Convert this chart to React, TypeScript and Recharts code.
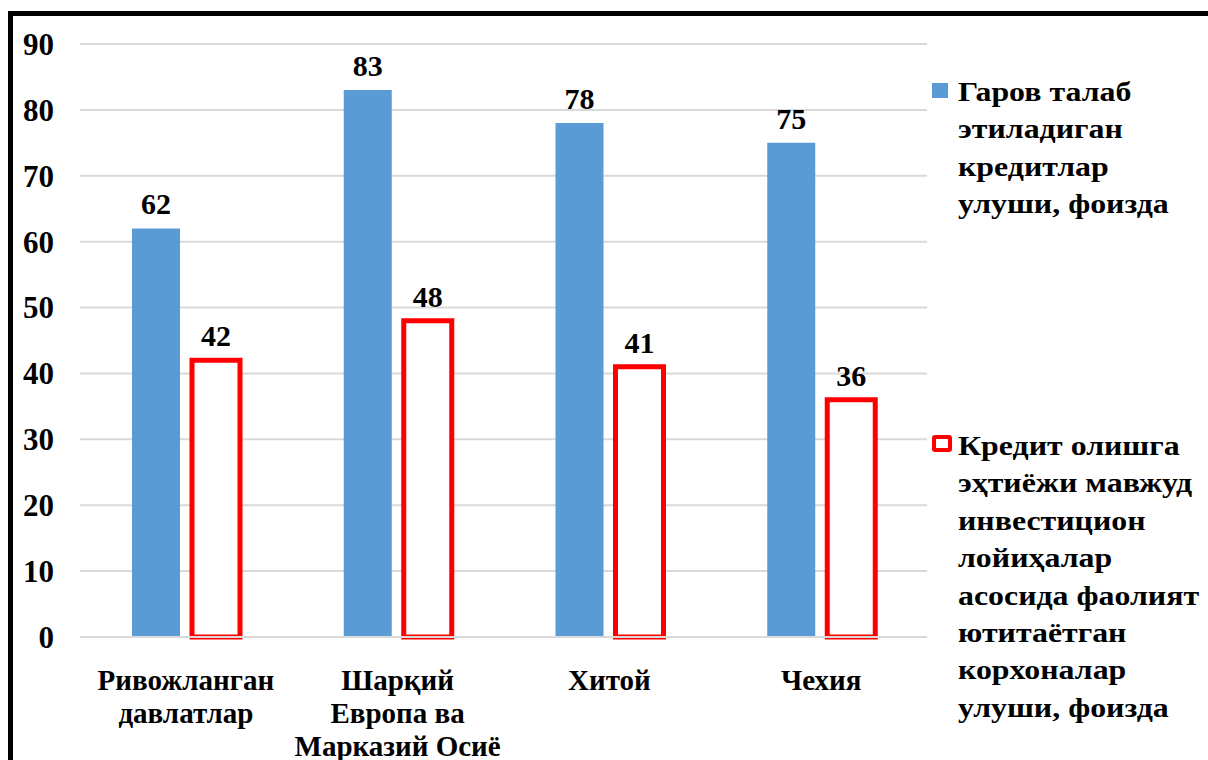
import { BarChart, Bar, XAxis, YAxis, CartesianGrid, Legend, LabelList } from 'recharts';

const categories = ['Ривожланган\nдавлатлар', 'Шарқий\nЕвропа ва\nМарказий Осиё', 'Хитой', 'Чехия'];
const collateralShare = [62, 83, 78, 75];
const projectShare = [42, 48, 41, 36];
const yTicks = [0, 10, 20, 30, 40, 50, 60, 70, 80, 90];

const seriesNames = {
  collateral: 'Гаров талаб\nэтиладиган\nкредитлар\nулуши, фоизда',
  project:
    'Кредит олишга\nэҳтиёжи мавжуд\nинвестицион\nлойиҳалар\nасосида фаолият\nютитаётган\nкорхоналар\nулуши, фоизда',
};

const data = categories.map((name, i) => ({
  name,
  collateral: collateralShare[i],
  project: projectShare[i],
}));

const FONT = '"Liberation Serif", "Times New Roman", serif';
const BLUE = '#5b9bd5';
const RED = '#ff0000';

const XTick = (props: any) => {
  const { x, y, payload } = props;
  const lines = String(payload.value).split('\n');
  return (
    <text x={x} y={y + 45} textAnchor="middle" fontFamily={FONT} fontWeight="bold" fontSize={29} fill="#000">
      {lines.map((l, i) => (
        <tspan key={i} x={x} dy={i === 0 ? 0 : 33}>
          {l}
        </tspan>
      ))}
    </text>
  );
};

const YTick = (props: any) => {
  const { y, payload } = props;
  return (
    <text x={54} y={y} dy="0.35em" textAnchor="end" fontFamily={FONT} fontWeight="bold" fontSize={31} fill="#000">
      {payload.value}
    </text>
  );
};

const renderLegend = () => {
  const items = [
    { key: 'collateral', top: 0, marker: { background: BLUE, width: 16, height: 15, border: 'none', radius: 0, top: 9 } },
    { key: 'project', top: 354, marker: { background: '#fff', width: 12, height: 9, border: `4px solid ${RED}`, radius: 3, top: 7 } },
  ];
  return (
    <div style={{ position: 'relative', width: 278, height: 0 }}>
      {items.map((it) => (
        <div key={it.key} style={{ position: 'absolute', left: 0, top: it.top }}>
          <div
            style={{
              position: 'absolute',
              left: 2,
              top: it.marker.top,
              width: it.marker.width,
              height: it.marker.height,
              background: it.marker.background,
              border: it.marker.border,
              borderRadius: it.marker.radius,
            }}
          />
          <div
            style={{
              position: 'absolute',
              left: 28,
              top: 0,
              whiteSpace: 'pre',
              fontFamily: FONT,
              fontWeight: 'bold',
              fontSize: 27,
              lineHeight: '37.4px',
              color: '#000',
              transform: 'scaleX(1.18)',
              transformOrigin: 'left top',
            }}
          >
            {seriesNames[it.key as 'collateral' | 'project']}
          </div>
        </div>
      ))}
    </div>
  );
};

export default function App() {
  return (
    <div style={{ position: 'fixed', left: 0, top: 0, width: 1208, height: 760, overflow: 'hidden', background: '#fff' }}>
      <div
        style={{
          position: 'absolute',
          left: 8,
          top: 11,
          width: 1300,
          height: 900,
          borderLeft: '5px solid #000',
          borderTop: '5px solid #000',
        }}
      />
      <div style={{ position: 'absolute', left: 0, top: 0 }}>
        <BarChart
          width={1208}
          height={760}
          data={data}
          margin={{ top: 44, right: 281, bottom: 0, left: 0 }}
          barSize={48}
          barGap={12}
        >
          <CartesianGrid vertical={false} stroke="#d9d9d9" strokeWidth={2} />
          <XAxis
            dataKey="name"
            tick={<XTick />}
            tickLine={false}
            axisLine={{ stroke: '#d9d9d9', strokeWidth: 2 }}
            interval={0}
            height={123}
          />
          <YAxis
            width={80}
            domain={[0, 90]}
            ticks={yTicks}
            tick={<YTick />}
            tickLine={false}
            axisLine={false}
            interval={0}
          />
          <Legend
            content={renderLegend}
            wrapperStyle={{ position: 'absolute', left: 930, top: 74, width: 278, height: 0, overflow: 'visible' }}
          />
          <Bar dataKey="collateral" fill={BLUE} isAnimationActive={false}>
            <LabelList
              dataKey="collateral"
              position="top"
              offset={14}
              fontFamily={FONT}
              fontWeight="bold"
              fontSize={30}
              fill="#000"
            />
          </Bar>
          <Bar dataKey="project" fill="#fff" stroke={RED} strokeWidth={5} isAnimationActive={false}>
            <LabelList
              dataKey="project"
              position="top"
              offset={14}
              fontFamily={FONT}
              fontWeight="bold"
              fontSize={30}
              fill="#000"
            />
          </Bar>
        </BarChart>
      </div>
    </div>
  );
}
